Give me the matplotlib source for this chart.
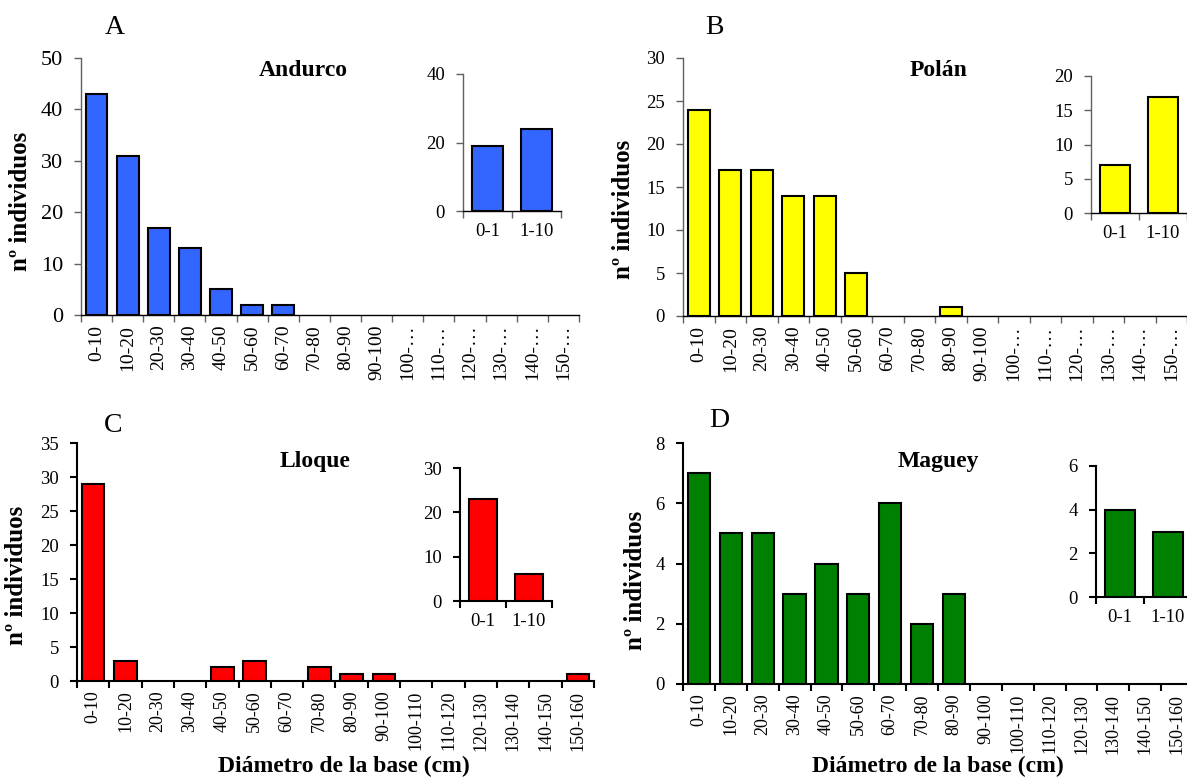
import numpy as np
import matplotlib
matplotlib.use("Agg")
import matplotlib.pyplot as plt

plt.rcParams['font.family'] = ['Liberation Serif', 'DejaVu Serif']

W, H = 1187, 778

clases_corto = ["0-10", "10-20", "20-30", "30-40", "40-50", "50-60", "60-70", "70-80",
                "80-90", "90-100", "100-…", "110-…", "120-…", "130-…", "140-…", "150-…"]
clases_largo = ["0-10", "10-20", "20-30", "30-40", "40-50", "50-60", "60-70", "70-80",
                "80-90", "90-100", "100-110", "110-120", "120-130", "130-140", "140-150", "150-160"]
clases_inset = ["0-1", "1-10"]

andurco = [43, 31, 17, 13, 5, 2, 2, 0, 0, 0, 0, 0, 0, 0, 0, 0]
andurco_inset = [19, 24]
polan = [24, 17, 17, 14, 14, 5, 0, 0, 1, 0, 0, 0, 0, 0, 0, 0]
polan_inset = [7, 17]
lloque = [29, 3, 0, 0, 2, 3, 0, 2, 1, 1, 0, 0, 0, 0, 0, 1]
lloque_inset = [23, 6]
maguey = [7, 5, 5, 3, 4, 3, 6, 2, 3, 0, 0, 0, 0, 0, 0, 0]
maguey_inset = [4, 3]


def rect(l, r, t, b):
    return [l / W, 1 - b / H, (r - l) / W, (b - t) / H]


def txt(fig, x, y, s, **kw):
    fig.text(x / W, 1 - y / H, s, **kw)


def barras(ax, labels, vals, color, ymax, step, ysize, xsize, spc, slw, width=0.7):
    n = len(vals)
    x = np.arange(n)
    v = np.array(vals)
    m = v > 0  # las clases vacías no se dibujan
    ax.bar(x[m], v[m], width=width, color=color, edgecolor='black', linewidth=1.5, zorder=3)
    ax.set_xlim(-0.5, n - 0.5)
    ax.set_ylim(0, ymax)
    ax.set_yticks(np.arange(0, ymax + 0.1, step))
    ax.set_xticks(x)
    ax.set_xticklabels(labels, rotation=90 if n > 2 else 0, fontsize=xsize)
    ax.set_xticks(np.arange(-0.5, n, 1), minor=True)
    ax.tick_params(axis='x', which='major', length=0, pad=7)
    ax.tick_params(axis='x', which='minor', length=5, width=slw, color=spc, direction='out')
    ax.tick_params(axis='y', labelsize=ysize, length=5, width=slw, color=spc, pad=8)
    for s in ['top', 'right']:
        ax.spines[s].set_visible(False)
    for s in ['left', 'bottom']:
        ax.spines[s].set_color(spc)
        ax.spines[s].set_linewidth(slw)
    ax.spines['bottom'].set_color('black')
    ax.patch.set_alpha(0)


fig = plt.figure(figsize=(W / 100, H / 100), dpi=100)

# A
ax = fig.add_axes(rect(81, 579, 58, 315))
barras(ax, clases_corto, andurco, '#3366FF', 50, 10, 16, 14, '#606060', 1.0)
ai = fig.add_axes(rect(463, 561, 74, 211))
barras(ai, clases_inset, andurco_inset, '#3366FF', 40, 20, 13.5, 13.5, '#606060', 1.0, width=0.63)
ai.tick_params(axis='x', which='major', pad=9)

# B
ax = fig.add_axes(rect(683, 1187, 58, 316))
barras(ax, clases_corto, polan, '#FFFF00', 30, 5, 13.5, 14, '#606060', 1.0)
bi = fig.add_axes(rect(1091, 1187, 76, 213))
barras(bi, clases_inset, polan_inset, '#FFFF00', 20, 5, 13.5, 13.5, '#606060', 1.0, width=0.63)
bi.tick_params(axis='x', which='major', pad=9)

# C
ax = fig.add_axes(rect(77, 594, 443, 681))
barras(ax, clases_largo, lloque, '#FF0000', 35, 5, 13.5, 13, 'black', 1.5)
ci = fig.add_axes(rect(460, 552, 468, 601))
barras(ci, clases_inset, lloque_inset, '#FF0000', 30, 10, 13.5, 13.5, 'black', 1.5, width=0.63)
ci.tick_params(axis='x', which='major', pad=9)

# D
ax = fig.add_axes(rect(683, 1193, 443, 684))
barras(ax, clases_largo, maguey, '#008000', 8, 2, 13.5, 13, 'black', 1.5)
di = fig.add_axes(rect(1096, 1192, 466, 597))
barras(di, clases_inset, maguey_inset, '#008000', 6, 2, 13.5, 13.5, 'black', 1.5, width=0.63)
di.tick_params(axis='x', which='major', pad=9)

# letras de panel
for x, y, s in [(115, 28, 'A'), (714, 28, 'B'), (113, 425, 'C'), (719, 421, 'D')]:
    txt(fig, x, y, s, fontsize=20, ha='center', va='center')

# nombres de sitio
for x, y, s in [(303, 70, 'Andurco'), (939, 71, 'Polán'), (315, 461, 'Lloque'), (938, 461, 'Maguey')]:
    txt(fig, x, y, s, fontsize=17, fontweight='bold', ha='center', va='center')

# ejes
for x, y in [(21, 201), (624, 209), (17, 575), (636, 580)]:
    txt(fig, x, y, 'nº individuos', fontsize=18, fontweight='bold', rotation=90,
        ha='center', va='center')
for x, y in [(344, 766), (938, 766)]:
    txt(fig, x, y, 'Diámetro de la base (cm)', fontsize=17, fontweight='bold',
        ha='center', va='center')

fig.savefig('out.png', dpi=100)
